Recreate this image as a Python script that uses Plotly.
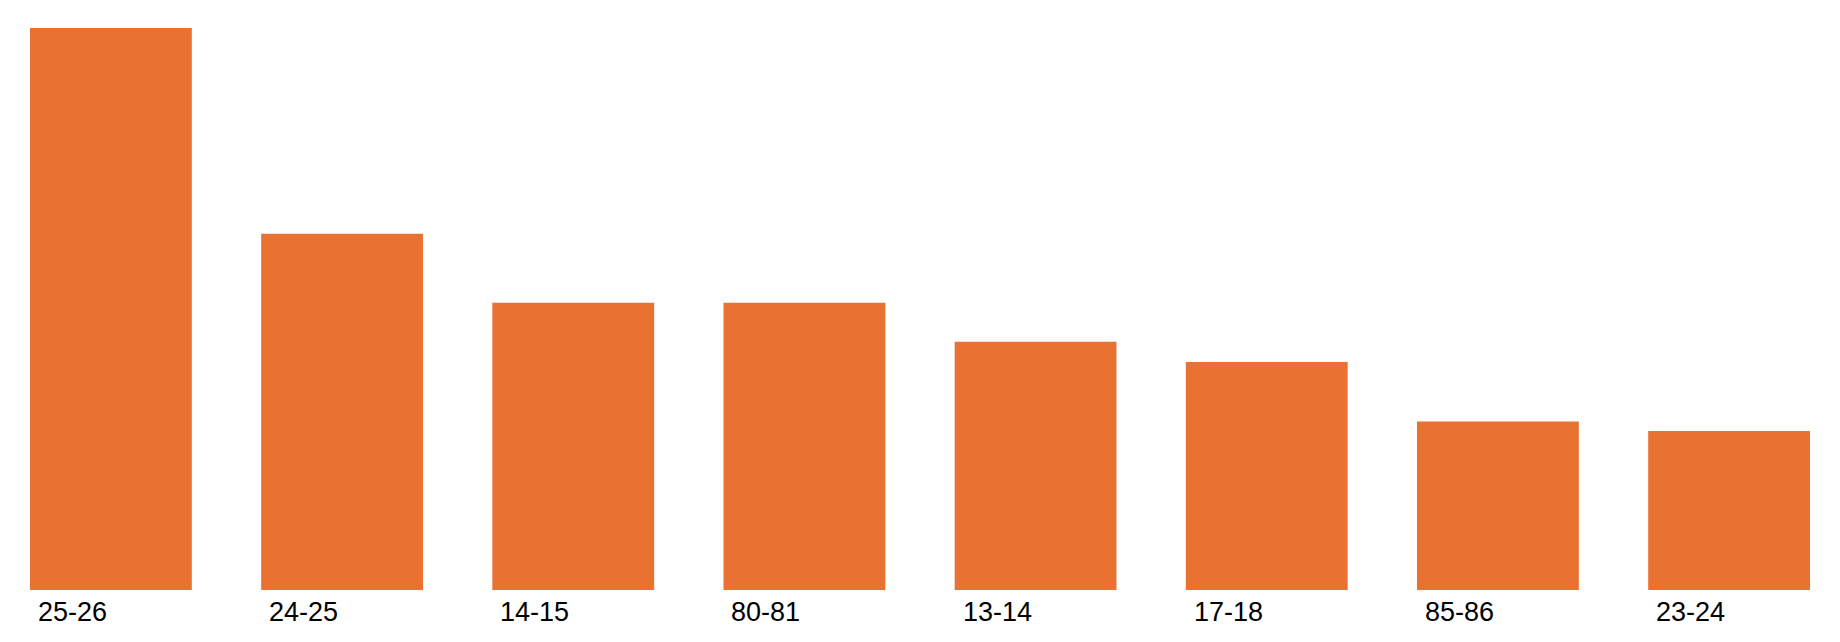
import plotly.graph_objects as go

categories = ["25-26", "24-25", "14-15", "80-81", "13-14", "17-18", "85-86", "23-24"]
values = [53.0, 33.6, 27.1, 27.1, 23.4, 21.5, 15.9, 15.0]

BAR_COLOR = "#E97132"

fig = go.Figure(
    go.Bar(
        x=categories,
        y=values,
        marker=dict(color=BAR_COLOR, line=dict(width=0)),
        hoverinfo="x+y",
    )
)

for c in categories:
    fig.add_annotation(
        x=c, y=0, xref="x", yref="y",
        text=c, showarrow=False,
        xanchor="left", yanchor="top",
        xshift=-75, yshift=-5,
        font=dict(family="Liberation Sans, Arial, sans-serif", size=27, color="#000000"),
    )

# page body has an 8px default margin; figure sized to fit inside the viewport
fig.update_layout(
    width=1824, height=626,
    margin=dict(l=22, r=22, t=20, b=44),
    paper_bgcolor="white", plot_bgcolor="white",
    bargap=0.3,
    showlegend=False,
    xaxis=dict(range=[-0.35, 7.35], showticklabels=False, showgrid=False,
               zeroline=False, showline=False, ticks=""),
    yaxis=dict(range=[0, 53], visible=False, showgrid=False, zeroline=False),
)

fig.write_html("out.html")
